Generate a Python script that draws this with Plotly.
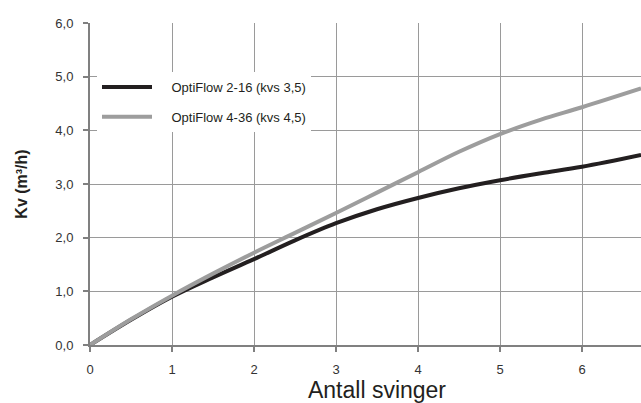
import plotly.graph_objects as go

turns = [0, 0.5, 1, 1.5, 2, 2.5, 3, 3.5, 4, 4.5, 5, 5.5, 6, 6.72]
kv_2_16 = [0, 0.47, 0.9, 1.26, 1.6, 1.95, 2.27, 2.53, 2.74, 2.92, 3.07, 3.2, 3.32, 3.54]
kv_4_36 = [0, 0.48, 0.92, 1.33, 1.72, 2.09, 2.46, 2.84, 3.22, 3.6, 3.93, 4.2, 4.43, 4.78]
x_ticks = [0, 1, 2, 3, 4, 5, 6, 7]
y_ticks = [0, 1, 2, 3, 4, 5, 6]
y_labels = ["0,0", "1,0", "2,0", "3,0", "4,0", "5,0", "6,0"]
names = ["OptiFlow 2-16 (kvs 3,5)", "OptiFlow 4-36 (kvs 4,5)"]

pad = "\u00a0" * 4
fig = go.Figure()
fig.add_trace(go.Scatter(x=turns, y=kv_2_16, mode="lines", name=pad + names[0],
                         line=dict(color="#231f20", width=4, shape="spline"), legendgroup="a"))
fig.add_trace(go.Scatter(x=turns, y=kv_4_36, mode="lines", name=pad + names[1],
                         line=dict(color="#9d9d9d", width=4, shape="spline"), legendgroup="b"))

fig.update_layout(
    width=664, height=403,
    margin=dict(l=90, r=0, t=23, b=58),
    paper_bgcolor="white", plot_bgcolor="white",
    font=dict(family="Liberation Sans, Arial, sans-serif", color="#231f20", size=13),
    showlegend=True,
    legend=dict(x=0.0122, y=0.848, xanchor="left", yanchor="top", bgcolor="white",
                borderwidth=0, itemwidth=50, tracegroupgap=10,
                font=dict(size=13, color="#231f20")),
)
fig.update_xaxes(range=[0, 7], tickvals=x_ticks, ticktext=[str(v) for v in x_ticks],
                 showgrid=True, gridcolor="#9a9a9a", gridwidth=1,
                 showline=True, linecolor="#808080", linewidth=2,
                 ticks="outside", ticklen=5, tickcolor="#808080", tickwidth=1.5,
                 ticklabelstandoff=6,
                 zeroline=False, tickfont=dict(size=13, color="#333333"),
                 title=dict(text="Antall svinger", font=dict(size=23, color="#231f20"), standoff=6))
fig.update_yaxes(range=[0, 6], tickvals=y_ticks, ticktext=y_labels,
                 showgrid=True, gridcolor="#9a9a9a", gridwidth=1,
                 showline=True, linecolor="#808080", linewidth=2,
                 ticks="outside", ticklen=5, tickcolor="#808080", tickwidth=1.5,
                 ticklabelstandoff=7,
                 zeroline=False, tickfont=dict(size=13, color="#333333"),
                 title=dict(text="<b>Kv (m³/h)</b>", font=dict(size=16, color="#231f20"), standoff=24))

fig.write_html("out.html", config={"displayModeBar": False},
               post_script="document.body.style.margin='0';document.body.style.overflow='hidden';")
